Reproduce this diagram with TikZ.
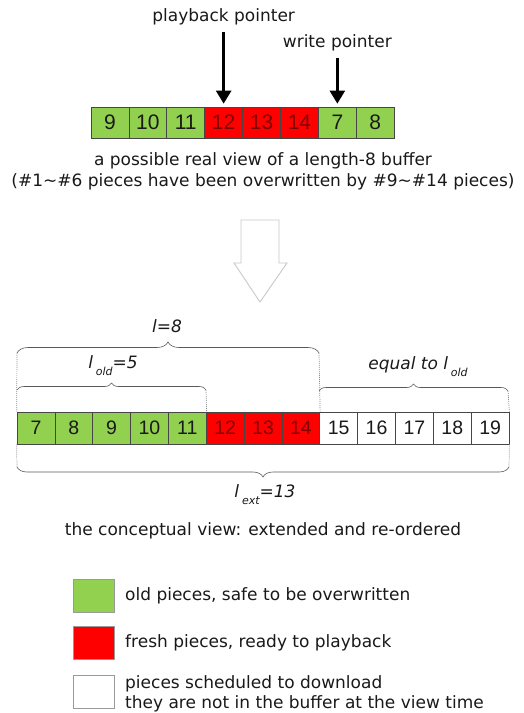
\documentclass[tikz,border=0pt]{standalone}
\usepackage{fontspec}
\setmainfont{DejaVu Sans}
\newfontfamily\numfont{Liberation Sans}
\usetikzlibrary{arrows.meta,decorations.pathreplacing}
\definecolor{oldg}{RGB}{146,208,80}
\definecolor{fresh}{RGB}{255,0,0}
\definecolor{freshtxt}{RGB}{125,0,0}
\definecolor{cellline}{RGB}{70,70,70}
\definecolor{guide}{RGB}{140,140,140}
\definecolor{hollow}{RGB}{200,200,200}
\definecolor{ink}{RGB}{25,25,25}
\begin{document}
\begin{tikzpicture}[x=1pt,y=-1pt,
  txt/.style={font=\fontsize{17}{20}\selectfont, text=ink, inner sep=1pt},
  lab/.style={font=\fontsize{17}{20}\selectfont\itshape, text=ink, inner sep=1pt},
  cellA/.style={draw=cellline, line width=0.7pt, minimum width=37.9pt, minimum height=31pt, inner sep=0pt, font=\numfont\fontsize{21}{21}\selectfont},
  cellB/.style={draw=cellline, line width=0.7pt, minimum width=37.85pt, minimum height=32pt, inner sep=0pt, font=\numfont\fontsize{19.5}{20}\selectfont},
  oldc/.style={fill=oldg, text=ink},
  freshc/.style={fill=fresh, text=freshtxt},
  newc/.style={fill=white, text=ink},
  ptr/.style={line width=2.6pt, -{Triangle[width=15pt,length=13pt]}, shorten <=6pt, shorten >=3pt},
  brc/.style={draw=black!65, line width=0.6pt, decorate},
  guideline/.style={draw=guide, line width=0.7pt, dash pattern=on 1pt off 1pt},
  legbox/.style={draw=black!40, line width=0.8pt, minimum width=41pt, minimum height=33pt, inner sep=0pt}]
\useasboundingbox (0,0) rectangle (523,713);

% ---- top buffer ----
\foreach \n/\s [count=\i from 0] in {9/oldc,10/oldc,11/oldc,12/freshc,13/freshc,14/freshc,7/oldc,8/oldc}
  \node[cellA,\s] (t\i) at ({91+37.9*(\i+0.5)},122.5) {\n};

\node[txt] (pp) at ({91+37.9*3.5},17) {playback pointer};
\node[txt] (wp) at ({91+37.9*6.5},43) {write pointer};
\draw[ptr] (pp.south) -- (t3.north);
\draw[ptr] (wp.south) -- (t6.north);

\node[txt] (cap1) at (263,161) {a possible real view of a length-8 buffer};
\node[txt] (cap2) at (263,182) {(\#1\textasciitilde\#6 pieces have been overwritten by \#9\textasciitilde\#14 pieces)};

% ---- hollow arrow ----
\draw[draw=hollow, line width=0.9pt, fill=white]
  (241,220) -- (279,220) -- (279,263) -- (287,263) -- (260,302) -- (234,263) -- (241,263) -- cycle;

% ---- bottom buffer ----
\foreach \n/\s [count=\i from 0] in {7/oldc,8/oldc,9/oldc,10/oldc,11/oldc,12/freshc,13/freshc,14/freshc,15/newc,16/newc,17/newc,18/newc,19/newc}
  \node[cellB,\s] (b\i) at ({17+37.85*(\i+0.5)},428) {\n};

% guide coordinates
\coordinate (g1) at (17,353);
\coordinate (g2) at (319,353);
\coordinate (g3) at (17,390);
\coordinate (g4) at (206,390);
\coordinate (g5) at (319,391);
\coordinate (g6) at (508,391);
\coordinate (g7) at (17,467);
\coordinate (g8) at (509,467);

\draw[guideline] (g1) -- (b0.north west);
\draw[guideline] (g2) -- (b7.north east);
\draw[guideline] (g4) -- (b4.north east);
\draw[guideline] (g6) -- (b12.north east);
\draw[guideline] (b0.south west) -- (g7);
\draw[guideline] (b12.south east) -- (g8);

\draw[brc, decoration={brace, amplitude=11pt}] (g1) -- (g2);
\draw[brc, decoration={brace, amplitude=7pt}] (g3) -- (g4);
\draw[brc, decoration={brace, amplitude=7pt}] (g5) -- (g6);
\draw[brc, decoration={brace, amplitude=10pt}] (g8) -- (g7);

\node[lab] (l8) at (167,326) {l=8};
\node[lab] (lold) at (113,366) {l\,\raisebox{-7pt}{\fontsize{11}{11}\selectfont old}=5};
\node[lab] (leq) at (418,367) {equal to l\,\raisebox{-7pt}{\fontsize{11}{11}\selectfont old}};
\node[lab] (lext) at (265,495) {l\,\raisebox{-7pt}{\fontsize{11}{11}\selectfont ext}=13};

\node[txt] (cap3) at (263,531) {the conceptual view: extended and re-ordered};

% ---- legend ----
\node[legbox, fill=oldg] (k1) at (93.5,595.5) {};
\node[legbox, fill=fresh] (k2) at (93.5,643) {};
\node[legbox, fill=white] (k3) at (93.5,691.5) {};
\node[txt, anchor=west] (d1) at (124,596) {old pieces, safe to be overwritten};
\node[txt, anchor=west] (d2) at (124,643) {fresh pieces, ready to playback};
\node[txt, anchor=west, align=left] (d3) at (124,694) {pieces scheduled to download\\they are not in the buffer at the view time};
\end{tikzpicture}
\end{document}
